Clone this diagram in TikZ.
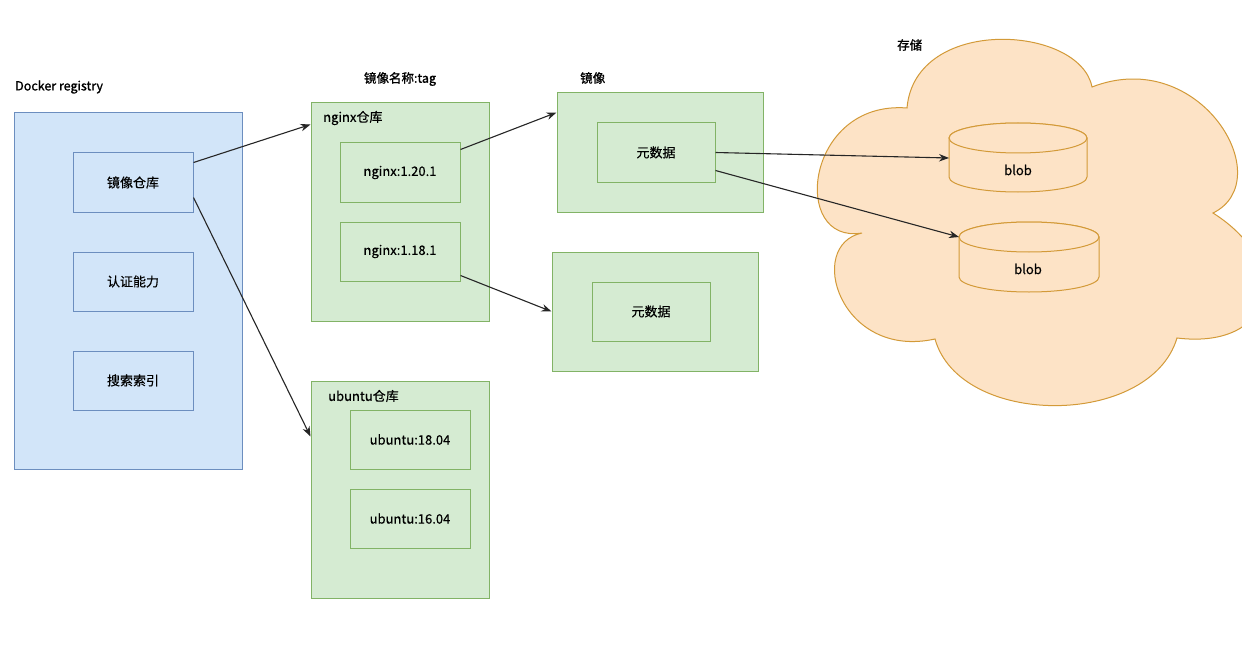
\documentclass[tikz,border=0pt]{standalone}
\usepackage{fontspec}
\setmainfont{Noto Sans CJK SC}
\newfontfamily\titlefont[FakeBold=1.2]{Noto Sans CJK SC}
\newfontfamily\bodyfont[FakeBold=0.4]{Noto Sans CJK SC}
\usetikzlibrary{arrows.meta}
\definecolor{bluefill}{HTML}{D2E5F9}
\definecolor{blueline}{HTML}{6C8EBF}
\definecolor{greenfill}{HTML}{D5EBD2}
\definecolor{greenline}{HTML}{82B366}
\definecolor{cloudfill}{HTML}{FDE3C6}
\definecolor{cloudline}{HTML}{D39A38}
\tikzset{
  outerblue/.style={draw=blueline, fill=bluefill, line width=1pt, rectangle, inner sep=0pt},
  innerblue/.style={draw=blueline, line width=1pt, rectangle, inner sep=0pt, minimum width=120pt, minimum height=59pt, font=\bodyfont\fontsize{13}{15}\selectfont},
  outergreen/.style={draw=greenline, fill=greenfill, line width=1pt, rectangle, inner sep=0pt},
  innergreen/.style={draw=greenline, line width=1pt, rectangle, inner sep=0pt, minimum height=59pt, font=\bodyfont\fontsize{13}{15}\selectfont},
  title/.style={font=\titlefont\fontsize{12.5}{14}\selectfont, inner sep=0pt, anchor=west},
  sublabel/.style={font=\bodyfont\fontsize{13}{15}\selectfont, inner sep=0pt, anchor=west},
  cyl/.style={draw=cloudline, fill=cloudfill, line width=1pt},
  arr/.style={-{Stealth[length=10pt,width=7.5pt]}, line width=1.1pt, draw=black!85},
}
\begin{document}
\begin{tikzpicture}[x=1pt,y=-1pt]
\fill[white] (0,0) rectangle (1242,650);

% cloud
\begin{scope}
\clip (0,0) rectangle (1242,650);
\draw[draw=cloudline, fill=cloudfill, line width=1pt]
  (862,233) .. controls (790,245) and (805,100) .. (907,108)
  .. controls (915,15) and (1080,25) .. (1092,87)
  .. controls (1200,45) and (1280,180) .. (1213,213)
  .. controls (1295,265) and (1275,350) .. (1177,338)
  .. controls (1150,428) and (960,428) .. (935,339)
  .. controls (840,360) and (805,245) .. (862,233) -- cycle;
\end{scope}
\node[title] (storelbl) at (897,45) {存储};

% blob 1
\draw[cyl] (949,138) -- (949,177) arc[start angle=180, end angle=0, x radius=69, y radius=15] -- (1087,138) arc[start angle=0, end angle=-180, x radius=69, y radius=15] -- cycle;
\draw[cyl] (1018,138) ellipse[x radius=69, y radius=15];
\node[font=\bodyfont\fontsize{13}{15}\selectfont, inner sep=0pt] (blob1) at (1018,170) {blob};
\coordinate (b1in) at (949,158);
% blob 2
\draw[cyl] (959,237) -- (959,277) arc[start angle=180, end angle=0, x radius=70, y radius=15] -- (1099,237) arc[start angle=0, end angle=-180, x radius=70, y radius=15] -- cycle;
\draw[cyl] (1029,237) ellipse[x radius=70, y radius=15];
\node[font=\bodyfont\fontsize{13}{15}\selectfont, inner sep=0pt] (blob2) at (1028,269) {blob};
\coordinate (b2in) at (959,237);

% registry
\node[title] (reglbl) at (15,87) {Docker registry};
\node[outerblue, minimum width=228pt, minimum height=356pt] (reg) at (128,291) {};
\node[innerblue] (repo) at (133,182.5) {镜像仓库};
\node[innerblue] (auth) at (133,281.5) {认证能力};
\node[innerblue] (search) at (133,380.5) {搜索索引};

% nginx repo
\node[title, anchor=center] (taglbl) at (400,79) {镜像名称:tag};
\node[outergreen, minimum width=178pt, minimum height=218pt] (nginx) at (400,212) {};
\node[sublabel] (nginxlbl) at (323,118) {nginx仓库};
\node[innergreen, minimum width=120pt] (n120) at (400,172.5) {nginx:1.20.1};
\node[innergreen, minimum width=120pt] (n118) at (400,251.5) {nginx:1.18.1};

% ubuntu repo
\node[outergreen, minimum width=178pt, minimum height=217pt] (ubuntu) at (400,489.5) {};
\node[sublabel] (ubuntulbl) at (328,396) {ubuntu仓库};
\node[innergreen, minimum width=120pt] (u1804) at (410,439.5) {ubuntu:18.04};
\node[innergreen, minimum width=120pt] (u1604) at (410,518.5) {ubuntu:16.04};

% images
\node[title] (imglbl) at (580,78) {镜像};
\node[outergreen, minimum width=206pt, minimum height=119pt] (img1) at (660,152.5) {};
\node[innergreen, minimum width=118pt] (meta1) at (656,152.5) {元数据};
\node[outergreen, minimum width=206pt, minimum height=119pt] (img2) at (655,311.5) {};
\node[innergreen, minimum width=118pt] (meta2) at (651,311.5) {元数据};

% arrows
\draw[arr] ([yshift=-10pt]repo.north east) -- ([yshift=-22pt]nginx.north west);
\draw[arr] ([yshift=15pt]repo.south east) -- ([yshift=-56pt]ubuntu.north west);
\draw[arr] ([yshift=-7pt]n120.north east) -- ([yshift=-20pt]img1.north west);
\draw[arr] ([yshift=6pt]n118.south east) -- ([yshift=-60pt]img2.north west);
\draw[arr] (meta1.east) -- (b1in);
\draw[arr] ([yshift=12pt]meta1.south east) -- (b2in);

\pgfresetboundingbox
\path[use as bounding box] (0,0) rectangle (1242,650);
\end{tikzpicture}
\end{document}
